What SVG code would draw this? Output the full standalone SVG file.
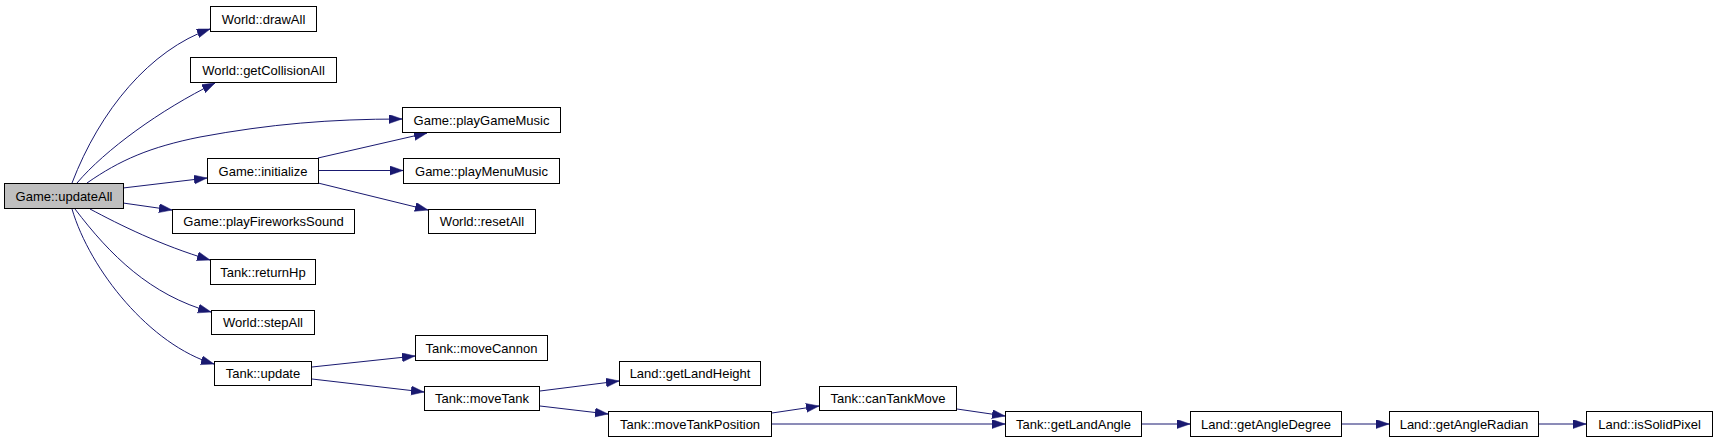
<svg xmlns="http://www.w3.org/2000/svg" width="1719" height="443" viewBox="0 0 1719 443">
<style>
.n rect{fill:#fff;stroke:#000;stroke-width:1}
.n.root rect{fill:#bfbfbf}
.n text{font-family:"Liberation Sans",Arial,sans-serif;font-size:13px;fill:#000;text-anchor:middle}
.e path{fill:none;stroke:#191970;stroke-width:1;marker-end:url(#ah)}
</style>
<defs>
<marker id="ah" markerUnits="userSpaceOnUse" markerWidth="14" markerHeight="10" refX="13" refY="4.5" orient="auto">
<path d="M0,0 L13,4.5 L0,9 Z" fill="#191970" stroke="#191970" stroke-width="0.5"/>
</marker>
</defs>
<rect width="1719" height="443" fill="#fff"/>
<g id="edges" class="e">
<path d="M72,183 C100,110 150,50 210,29"/>
<path d="M77,183 C105,150 160,110 215,83"/>
<path d="M87,183 C120,160 150,147 200,137 C270,124 330,119 402,119"/>
<path d="M123,188 L207,178"/>
<path d="M123,203 L172,210"/>
<path d="M90,209 C120,225 160,245 210,260"/>
<path d="M75,209 C110,255 150,295 211,312"/>
<path d="M72,209 C90,270 150,345 214,364"/>
<path d="M318,158 L427,133"/>
<path d="M319,170.5 L403,170.5"/>
<path d="M318,183 L428,210"/>
<path d="M312,367 L415,356"/>
<path d="M312,379 L424,392"/>
<path d="M540,391 L619,381"/>
<path d="M540,406 L608,414"/>
<path d="M772,413 L819,406"/>
<path d="M957,409 L1005,416"/>
<path d="M772,424 L1005,424"/>
<path d="M1142,424 L1190,424"/>
<path d="M1342,424 L1389,424"/>
<path d="M1539,424 L1586,424"/>
</g>
<g id="node-updateAll" class="n root"><rect x="4.5" y="183.5" width="119" height="25"/><text x="64" y="200.5">Game::updateAll</text></g>
<g id="node-drawAll" class="n"><rect x="210.5" y="6.5" width="106" height="25"/><text x="263.5" y="23.5">World::drawAll</text></g>
<g id="node-getCollisionAll" class="n"><rect x="190.5" y="57.5" width="146" height="25"/><text x="263.5" y="74.5">World::getCollisionAll</text></g>
<g id="node-playGameMusic" class="n"><rect x="402.5" y="107.5" width="158" height="25"/><text x="481.5" y="124.5">Game::playGameMusic</text></g>
<g id="node-initialize" class="n"><rect x="207.5" y="158.5" width="111" height="25"/><text x="263" y="175.5">Game::initialize</text></g>
<g id="node-playMenuMusic" class="n"><rect x="403.5" y="158.5" width="156" height="25"/><text x="481.5" y="175.5">Game::playMenuMusic</text></g>
<g id="node-playFireworksSound" class="n"><rect x="172.5" y="209.5" width="182" height="24"/><text x="263.5" y="226">Game::playFireworksSound</text></g>
<g id="node-resetAll" class="n"><rect x="428.5" y="209.5" width="107" height="24"/><text x="482" y="226">World::resetAll</text></g>
<g id="node-returnHp" class="n"><rect x="210.5" y="259.5" width="105" height="25"/><text x="263" y="276.5">Tank::returnHp</text></g>
<g id="node-stepAll" class="n"><rect x="211.5" y="310.5" width="103" height="24"/><text x="263" y="327">World::stepAll</text></g>
<g id="node-update" class="n"><rect x="214.5" y="361.5" width="97" height="24"/><text x="263" y="378">Tank::update</text></g>
<g id="node-moveCannon" class="n"><rect x="415.5" y="335.5" width="132" height="25"/><text x="481.5" y="352.5">Tank::moveCannon</text></g>
<g id="node-moveTank" class="n"><rect x="424.5" y="386.5" width="115" height="24"/><text x="482" y="403">Tank::moveTank</text></g>
<g id="node-getLandHeight" class="n"><rect x="619.5" y="361.5" width="141" height="24"/><text x="690" y="378">Land::getLandHeight</text></g>
<g id="node-canTankMove" class="n"><rect x="819.5" y="386.5" width="137" height="24"/><text x="888" y="403">Tank::canTankMove</text></g>
<g id="node-moveTankPosition" class="n"><rect x="608.5" y="411.5" width="163" height="25"/><text x="690" y="428.5">Tank::moveTankPosition</text></g>
<g id="node-getLandAngle" class="n"><rect x="1005.5" y="411.5" width="136" height="25"/><text x="1073.5" y="428.5">Tank::getLandAngle</text></g>
<g id="node-getAngleDegree" class="n"><rect x="1190.5" y="411.5" width="151" height="25"/><text x="1266" y="428.5">Land::getAngleDegree</text></g>
<g id="node-getAngleRadian" class="n"><rect x="1389.5" y="411.5" width="149" height="25"/><text x="1464" y="428.5">Land::getAngleRadian</text></g>
<g id="node-isSolidPixel" class="n"><rect x="1586.5" y="411.5" width="126" height="25"/><text x="1649.5" y="428.5">Land::isSolidPixel</text></g>
</svg>
